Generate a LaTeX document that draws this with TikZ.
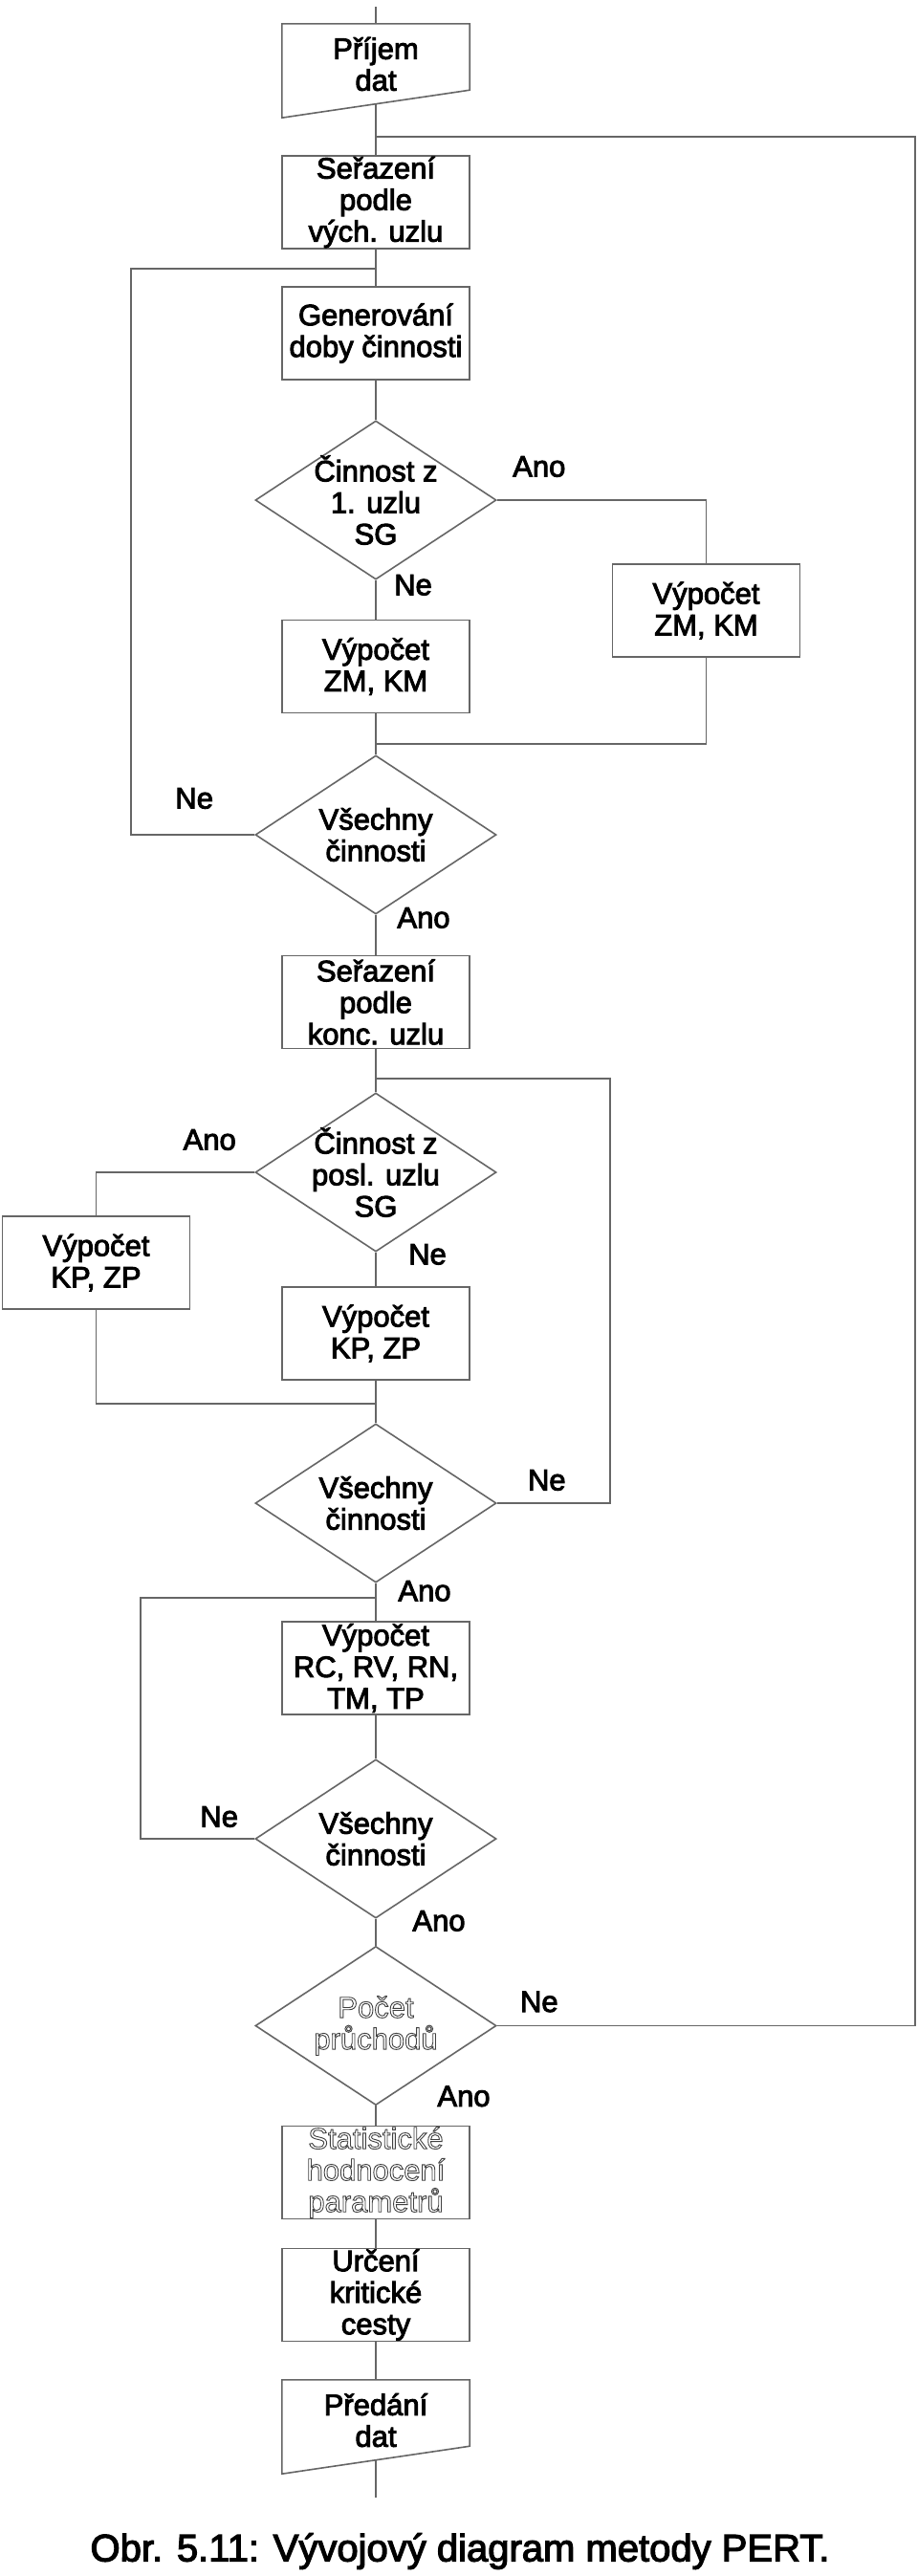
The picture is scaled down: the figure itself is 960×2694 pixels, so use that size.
\documentclass[tikz,border=0pt]{standalone}
\usepackage{fontspec}
\setmainfont{Liberation Sans}
\newfontfamily\tucne{Liberation Sans}[FakeBold=3]
\usetikzlibrary{shapes.geometric}
\newcommand\obrys[1]{\normalfont\rlap{\color{white}.}\special{pdf:literal direct 1 Tr 0.9 w}#1\special{pdf:literal direct 0 Tr}}

\begin{document}
\begin{tikzpicture}[x=1pt,y=1pt,
  spoj/.style={draw=black!60,line width=1.6pt},
  main node/.style={rectangle,draw=black!60,line width=1.6pt,minimum width=196pt,minimum height=97pt,inner sep=1pt,align=center,font=\tucne\fontsize{31}{33}\selectfont},
  dec node/.style={diamond,draw=black!60,line width=1.6pt,aspect=1.52,minimum width=252pt,minimum height=166pt,inner sep=-6pt,align=center,font=\tucne\fontsize{31}{33}\selectfont},
  doc node/.style={rectangle,minimum width=196pt,minimum height=84pt,inner sep=1pt,align=center,font=\tucne\fontsize{31}{33}\selectfont},
  label node/.style={inner sep=0pt,font=\tucne\fontsize{31}{33}\selectfont},
  popis node/.style={inner sep=0pt,font=\tucne\fontsize{40}{44}\selectfont}]
    \useasboundingbox (0,0) rectangle (960,-2694);

    \node[doc node] (prijem) at (393,-67) {Příjem\\dat};
    \node[main node] (serA) at (393,-211.5) {Seřazení\\podle\\vých. uzlu};
    \node[main node] (gen) at (393,-348.5) {Generování\\doby činnosti};
    \node[dec node] (dec1) at (393,-523) {Činnost z\\1. uzlu\\SG};
    \node[main node] (zmA) at (393,-697) {Výpočet\\ZM, KM};
    \node[main node] (zmB) at (738.5,-638.5) {Výpočet\\ZM, KM};
    \node[dec node] (vse1) at (393,-873) {Všechny\\činnosti};
    \node[main node] (serB) at (393,-1048) {Seřazení\\podle\\konc. uzlu};
    \node[dec node] (dec2) at (393,-1226) {Činnost z\\posl. uzlu\\SG};
    \node[main node] (kpA) at (100.5,-1320.5) {Výpočet\\KP, ZP};
    \node[main node] (kpB) at (393,-1394.5) {Výpočet\\KP, ZP};
    \node[dec node] (vse2) at (393,-1572) {Všechny\\činnosti};
    \node[main node] (rc) at (393,-1744.5) {Výpočet\\RC, RV, RN,\\TM, TP};
    \node[dec node] (vse3) at (393,-1923) {Všechny\\činnosti};
    \node[dec node, text=black!75] (pocet) at (393,-2118.5) {\obrys{Počet}\\\obrys{průchodů}};
    \node[main node, text=black!75] (stat) at (393,-2272) {\obrys{Statistické}\\\obrys{hodnocení}\\\obrys{parametrů}};
    \node[main node] (krit) at (393,-2400) {Určení\\kritické\\cesty};
    \node[doc node] (predani) at (393,-2531) {Předání\\dat};
    \node[popis node] (popis) at (481,-2668) {Obr. 5.11: Vývojový diagram metody PERT.};

    \coordinate (zac) at (393,-7);
    \coordinate (kon) at (393,-2612);
    \coordinate (j1) at (393,-143);
    \coordinate (p1) at (957,-143);
    \coordinate (j2) at (393,-281);
    \coordinate (l1) at (137,-281);
    \coordinate (m1) at (393,-778);
    \coordinate (j3) at (393,-1128);
    \coordinate (p2) at (638,-1128);
    \coordinate (m2) at (393,-1468);
    \coordinate (j4) at (393,-1671);
    \coordinate (l2) at (147,-1671);

    \draw[spoj] (prijem.north west) -- (prijem.north east) -- ([yshift=15pt]prijem.south east) .. controls +(-33,-5) and +(33,5) .. ([yshift=-14pt]prijem.south west) -- cycle;
    \draw[spoj] (predani.north west) -- (predani.north east) -- ([yshift=15pt]predani.south east) .. controls +(-33,-5) and +(33,5) .. ([yshift=-14pt]predani.south west) -- cycle;

    \path[spoj]
        (zac) edge (prijem)
        (prijem) edge (serA)
        (serA) edge (gen)
        (gen) edge (dec1)
        (dec1) edge (zmA)
        (zmA) edge (vse1)
        (vse1) edge (serB)
        (serB) edge (dec2)
        (dec2) edge (kpB)
        (kpB) edge (vse2)
        (vse2) edge (rc)
        (rc) edge (vse3)
        (vse3) edge (pocet)
        (pocet) edge (stat)
        (stat) edge (krit)
        (krit) edge (predani)
        (predani) edge (kon)
    ;
    \draw[spoj] (dec1.east) -| (zmB.north);
    \draw[spoj] (zmB.south) |- (m1);
    \draw[spoj] (vse1.west) -| (l1) -- (j2);
    \draw[spoj] (vse2.east) -| (p2) -- (j3);
    \draw[spoj] (dec2.west) -| (kpA.north);
    \draw[spoj] (kpA.south) |- (m2);
    \draw[spoj] (vse3.west) -| (l2) -- (j4);
    \draw[spoj] (pocet.east) -| (p1) -- (j1);

    \node[label node] (a1) at ([xshift=44pt,yshift=35pt]dec1.east) {Ano};
    \node[label node] (n1) at ([xshift=39pt,yshift=-5pt]dec1.south) {Ne};
    \node[label node] (n2) at ([xshift=-63pt,yshift=38pt]vse1.west) {Ne};
    \node[label node] (a2) at ([xshift=50pt,yshift=-3pt]vse1.south) {Ano};
    \node[label node] (a3) at ([xshift=-47pt,yshift=34pt]dec2.west) {Ano};
    \node[label node] (n3) at ([xshift=54pt,yshift=-2pt]dec2.south) {Ne};
    \node[label node] (n4) at ([xshift=52pt,yshift=24pt]vse2.east) {Ne};
    \node[label node] (a4) at ([xshift=51pt,yshift=-8pt]vse2.south) {Ano};
    \node[label node] (n5) at ([xshift=-37pt,yshift=23pt]vse3.west) {Ne};
    \node[label node] (a5) at ([xshift=66pt,yshift=-2pt]vse3.south) {Ano};
    \node[label node] (n6) at ([xshift=44pt,yshift=25pt]pocet.east) {Ne};
    \node[label node] (a6) at ([xshift=92pt,yshift=10pt]pocet.south) {Ano};
\end{tikzpicture}
\end{document}
